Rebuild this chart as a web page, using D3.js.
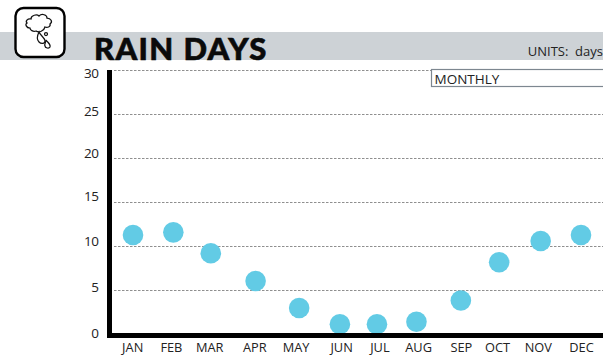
<!DOCTYPE html>
<html><head><meta charset="utf-8">
<script src="https://cdn.jsdelivr.net/npm/d3@7/dist/d3.min.js"></script>
<style>html,body{margin:0;padding:0;background:#fff;overflow:hidden}svg{display:block}</style>
</head><body><svg id="c" width="603" height="357"></svg>
<script>
const months=["JAN","FEB","MAR","APR","MAY","JUN","JUL","AUG","SEP","OCT","NOV","DEC"];
const rainDays=[11.25,11.55,9.17,6.02,2.95,1.1,1.1,1.4,3.8,8.15,10.57,11.25];
const pointMonth=[0,0.99,1.91,3.01,4.08,5.08,5.99,6.96,8.05,8.99,10.01,11];
const labelMonth=[-0.02,0.93,1.87,2.98,3.99,5.11,6.05,7.0,8.05,8.94,9.94,11];
const yTicks=[0,5,10,15,20,25,30];
const titleText="RAIN DAYS", unitsText="UNITS:  days", periodText="MONTHLY";

const svg=d3.select("#c");
const font="'Open Sans',sans-serif";
const x=d3.scaleLinear().domain([0,11]).range([133,581]);
const y=d3.scaleLinear().domain([0,30]).range([334,70]);
// the reference's tick labels do not sit evenly against their gridlines
const yLabel=d3.scaleLinear().domain(yTicks).range([332.7,286.7,241,196,153.3,110.7,73]);

svg.append("rect").attr("x",0).attr("y",32).attr("width",603).attr("height",28).attr("fill","#cdd2d6");
svg.append("text").attr("x",94).attr("y",60).attr("font-family","Lato,sans-serif").attr("font-weight",900)
  .attr("font-size",31).attr("letter-spacing",1.35).attr("fill","#0a0a0a")
  .attr("stroke","#0a0a0a").attr("stroke-width",0.6).text(titleText);
svg.append("text").attr("x",603).attr("y",55.5).attr("text-anchor","end").attr("font-family",font)
  .attr("font-size",13).attr("fill","#222").style("white-space","pre").text(unitsText);

// icon
const icon=svg.append("g");
icon.append("rect").attr("x",15.5).attr("y",8).attr("width",49).attr("height",49).attr("rx",8)
  .attr("fill","#fff").attr("stroke","#000").attr("stroke-width",2.4);
const iconLine=g=>g.attr("fill","none").attr("stroke","#111").attr("stroke-width",1.25);
icon.append("path").call(iconLine)
  .attr("d","M31 19C31 15 37 14 39 16C42 13 47 15 47 18C51 18 53 22 50 24C51 27 47 28 45 27C44 31 39 33 36 31C33 32 30 30 30 28C26 28 25 24 27 23C25 21 28 18 31 19Z");
icon.append("path").call(iconLine)
  .attr("d","M39 32C40 35 45 38 45 41C45 44 41 44 39 42C37 40 37 36 39 32Z");
icon.append("path").call(iconLine)
  .attr("d","M46 40C47 42 51 44 50 47C49 49 45 48 45 46C44 44 46 42 46 40Z");
icon.append("circle").attr("cx",46).attr("cy",34).attr("r",1.5).call(iconLine);

// grid
svg.append("g").selectAll("line").data(yTicks.filter(d=>d>0)).join("line")
  .attr("x1",114).attr("x2",603).attr("y1",d=>Math.round(y(d))+.5).attr("y2",d=>Math.round(y(d))+.5)
  .attr("stroke","#8f8f8f").attr("stroke-width",1).attr("stroke-dasharray","2.5 1.5");

// period box
svg.append("rect").attr("x",431.5).attr("y",69.5).attr("width",180).attr("height",17)
  .attr("fill","#fff").attr("stroke","#7d8790").attr("stroke-width",1.2);
svg.append("text").attr("x",434.5).attr("y",84).attr("font-family",font).attr("font-size",13.5).attr("fill","#222").text(periodText);

// points
svg.append("g").selectAll("circle").data(rainDays).join("circle")
  .attr("cx",(d,i)=>x(pointMonth[i])).attr("cy",d=>y(d)).attr("r",10.3).attr("fill","#62cbe5");

// axes
const yAxis=d3.axisLeft(yLabel).tickValues(yTicks).tickSize(0).tickPadding(0);
const yg=svg.append("g").attr("transform","translate(98.5,0)").call(yAxis);
yg.select(".domain").remove();
yg.selectAll("text").attr("font-family",font).attr("font-size",13.5).attr("letter-spacing",-0.5).attr("fill","#222");

const xAxis=d3.axisBottom(x).tickValues(labelMonth).tickFormat((d,i)=>months[i]).tickSize(0).tickPadding(0);
const xg=svg.append("g").attr("transform","translate(0,342.5)").call(xAxis);
xg.select(".domain").remove();
xg.selectAll("text").attr("font-family",font).attr("font-size",12.8).attr("fill","#222");

svg.append("rect").attr("x",107).attr("y",70).attr("width",5).attr("height",268).attr("fill","#000");
svg.append("rect").attr("x",107).attr("y",333).attr("width",496).attr("height",5).attr("fill","#000");
</script></body></html>
